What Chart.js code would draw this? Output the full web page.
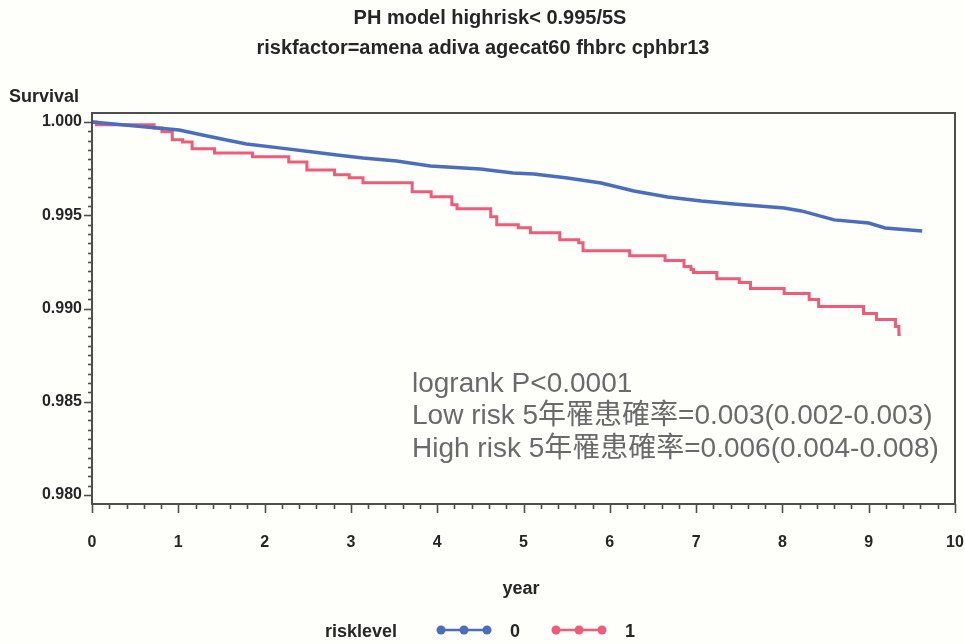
<!DOCTYPE html>
<html>
<head>
<meta charset="utf-8">
<script src="https://cdn.jsdelivr.net/npm/chart.js@4/dist/chart.umd.min.js"></script>
<style>
  html, body { margin: 0; padding: 0; background: #fefefb; }
  #wrap { width: 965px; height: 644px; position: relative; }
</style>
</head>
<body>
<div id="wrap"><canvas id="km" width="965" height="644"></canvas></div>
<script>
/* ---- data ---- */
const lowYears = [0, 0.63, 1.01, 1.28, 1.56, 1.79, 2.17, 2.56, 2.84, 3.14, 3.53, 3.92, 4.50, 4.88, 5.12, 5.51, 5.90, 6.28, 6.67, 7.06, 7.44, 8.02, 8.22, 8.60, 9.00, 9.19, 9.62];
const lowSurv  = [1.0000, 0.99973, 0.99957, 0.99930, 0.99903, 0.99882, 0.99861, 0.99839, 0.99823, 0.99807, 0.99791, 0.99764, 0.99748, 0.99727, 0.99721, 0.99700, 0.99673, 0.99630, 0.99598, 0.99576, 0.99560, 0.99539, 0.99523, 0.99475, 0.99458, 0.99432, 0.99416];

const highYears = [0, 0.05, 0.72, 0.81, 0.93, 1.05, 1.16, 1.42, 1.86, 2.28, 2.49, 2.81, 2.98, 3.14, 3.71, 3.93, 4.17, 4.23, 4.62, 4.69, 4.94, 5.08, 5.42, 5.64, 5.69, 6.23, 6.64, 6.86, 6.94, 6.97, 7.24, 7.50, 7.63, 8.02, 8.31, 8.42, 8.94, 9.09, 9.31, 9.35, 9.37];
const highSurv  = [1.0000, 0.99985, 0.99968, 0.99947, 0.99904, 0.99893, 0.99856, 0.99834, 0.99813, 0.99786, 0.99743, 0.99717, 0.99701, 0.99674, 0.99626, 0.99599, 0.99556, 0.99535, 0.99492, 0.99449, 0.99433, 0.99406, 0.99369, 0.99353, 0.99310, 0.99283, 0.99257, 0.99225, 0.99209, 0.99193, 0.99160, 0.99139, 0.99107, 0.99080, 0.99048, 0.99011, 0.98973, 0.98941, 0.98904, 0.98861, 0.98861];

const xTicks = [0, 1, 2, 3, 4, 5, 6, 7, 8, 9, 10];
const yTicks = [0.980, 0.985, 0.990, 0.995, 1.000];

const titleLines = ['PH model highrisk< 0.995/5S', 'riskfactor=amena adiva agecat60 fhbrc cphbr13'];
const noteLines = ['logrank P<0.0001', 'Low risk 5年罹患確率=0.003(0.002-0.003)', 'High risk 5年罹患確率=0.006(0.004-0.008)'];
const legendTitle = 'risklevel';
const levels = ['0', '1'];

const BLUE = '#4a6dbd';
const RED = '#ef5b78';
const INK = '#262626';
const AXFONT = '"Liberation Sans", Arial, sans-serif';

function pts(xs, ys) { return xs.map((x, i) => ({ x, y: ys[i] })); }

/* frame, minor ticks, titles, notes and legend */
const decor = {
  id: 'decor',
  afterDraw(chart) {
    const ctx = chart.ctx, a = chart.chartArea;
    const xs = chart.scales.x, ys = chart.scales.y;
    ctx.save();
    // frame
    ctx.strokeStyle = '#4d4f4c';
    ctx.lineWidth = 2;
    ctx.strokeRect(a.left, a.top, a.right - a.left, a.bottom - a.top);
    // x ticks (major every 1, minor every 0.2)
    ctx.lineWidth = 1.6;
    for (let i = 0; i <= 50; i++) {
      const px = Math.round(xs.getPixelForValue(i / 5)) + 0.5;
      const len = i % 5 === 0 ? 9 : 5;
      ctx.beginPath(); ctx.moveTo(px, a.bottom); ctx.lineTo(px, a.bottom + len); ctx.stroke();
    }
    // y ticks (major every 0.005, minor every 0.0005)
    for (let i = 0; i <= 40; i++) {
      const py = Math.round(ys.getPixelForValue(0.98 + i * 0.0005)) + 0.5;
      const len = i % 10 === 0 ? 8 : 4;
      ctx.beginPath(); ctx.moveTo(a.left, py); ctx.lineTo(a.left - len, py); ctx.stroke();
    }
    // titles
    ctx.fillStyle = INK;
    ctx.textAlign = 'center';
    ctx.textBaseline = 'middle';
    ctx.font = 'bold 20px ' + AXFONT;
    ctx.fillText(titleLines[0], 490, 18);
    ctx.fillText(titleLines[1], 483, 48);
    // axis titles
    ctx.font = 'bold 18px ' + AXFONT;
    ctx.textAlign = 'left';
    ctx.fillText('Survival', 9, 97);
    ctx.textAlign = 'center';
    ctx.fillText('year', 521, 589);
    // notes
    ctx.fillStyle = '#6a6a6a';
    ctx.textAlign = 'left';
    ctx.font = '28px ' + AXFONT + ', "Noto Sans CJK TC"';
    noteLines.forEach((t, i) => ctx.fillText(t, 412, 384 + i * 32.5));
    // legend
    ctx.fillStyle = INK;
    ctx.font = 'bold 18px ' + AXFONT;
    ctx.fillText(legendTitle, 325, 632);
    const groups = [{ c: BLUE, x0: 441, lx: 515 }, { c: RED, x0: 556, lx: 630 }];
    groups.forEach((g, k) => {
      ctx.strokeStyle = g.c; ctx.fillStyle = g.c; ctx.lineWidth = 2.5;
      ctx.beginPath(); ctx.moveTo(g.x0, 630); ctx.lineTo(g.x0 + 46, 630); ctx.stroke();
      for (let j = 0; j < 3; j++) {
        ctx.beginPath(); ctx.arc(g.x0 + j * 23, 630, 4.5, 0, Math.PI * 2); ctx.fill();
      }
      ctx.fillStyle = INK;
      ctx.font = 'bold 18px ' + AXFONT;
      ctx.textAlign = 'center';
      ctx.fillText(levels[k], g.lx, 632);
      ctx.textAlign = 'left';
    });
    ctx.restore();
  }
};

new Chart(document.getElementById('km'), {
  type: 'scatter',
  data: {
    datasets: [
      { label: '0', data: pts(lowYears, lowSurv), showLine: true, borderColor: BLUE, borderWidth: 3.5, pointRadius: 0, stepped: false },
      { label: '1', data: pts(highYears, highSurv), showLine: true, borderColor: RED, borderWidth: 3, pointRadius: 0, stepped: true }
    ]
  },
  options: {
    responsive: false,
    animation: false,
    layout: { padding: { left: 0, right: 10, top: 113, bottom: 0 } },
    plugins: { legend: { display: false }, tooltip: { enabled: false } },
    scales: {
      x: {
        type: 'linear', min: 0, max: 10,
        grid: { display: false, drawTicks: false }, border: { display: false },
        afterBuildTicks: s => { s.ticks = xTicks.map(v => ({ value: v })); },
        afterFit: s => { s.height = 140; s.paddingLeft = 0; s.paddingRight = 0; },
        ticks: { color: INK, padding: 29, maxRotation: 0, font: { family: AXFONT, size: 16, weight: 'bold' }, callback: v => String(v) }
      },
      y: {
        type: 'linear', min: 0.97952, max: 1.00048,
        grid: { display: false, drawTicks: false }, border: { display: false },
        afterBuildTicks: s => { s.ticks = yTicks.map(v => ({ value: v })); },
        afterFit: s => { s.width = 92; s.paddingTop = 0; s.paddingBottom = 0; },
        ticks: { color: INK, padding: 10, font: { family: AXFONT, size: 16, weight: 'bold' }, callback: v => Number(v).toFixed(3) }
      }
    }
  },
  plugins: [decor]
});
</script>
</body>
</html>
